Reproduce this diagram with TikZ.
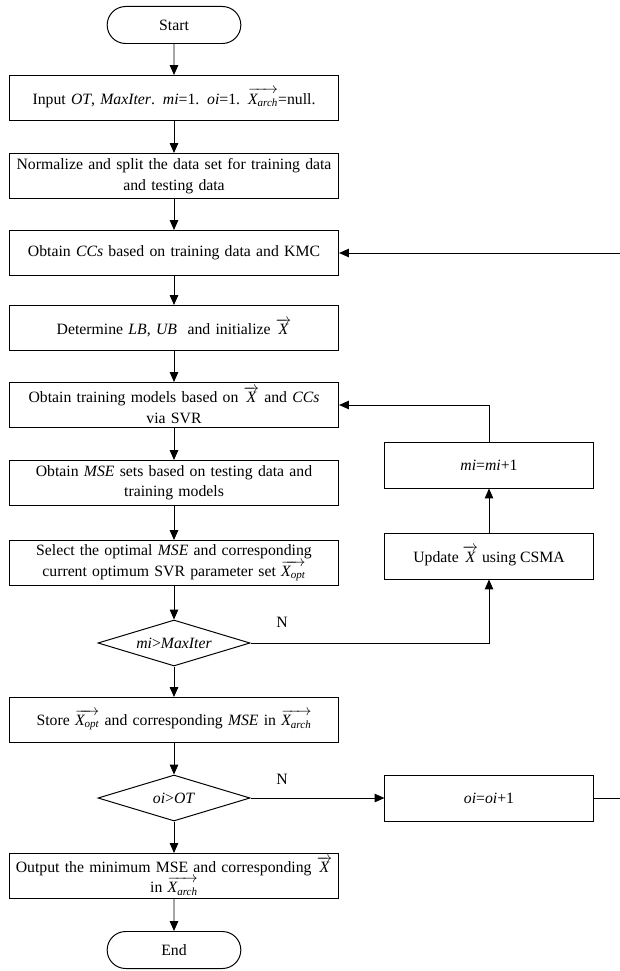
\documentclass[tikz,border=0pt]{standalone}
\usepackage{amsmath}
\usepackage{fontspec}
\setmainfont{Liberation Serif}
\usetikzlibrary{shapes.geometric,shapes.misc,arrows.meta}

\newcommand{\vx}[1]{$\overrightarrow{\textit{X}_{\textit{#1}}}$}
\newcommand{\vX}{$\overrightarrow{\textit{X}}$}

\begin{document}
\begin{tikzpicture}[x=0.025cm, y=-0.025cm, font=\fontsize{11.2}{14.5}\selectfont,
  line width=0.7pt, >={Triangle[length=7pt,width=6pt]},
  proc/.style={draw, minimum width=8.225cm, minimum height=1.125cm, text width=8.1cm, align=center, inner sep=0pt},
  side/.style={draw, minimum width=5.2cm, minimum height=1.15cm, align=center},
  test/.style={draw, diamond, aspect=3.3, minimum width=3.8cm, minimum height=1.15cm, inner sep=0pt},
  term/.style={draw, rounded rectangle, minimum width=3.575cm, minimum height=0.925cm}]

\useasboundingbox (0,0) rectangle (619,971);

\node[name=start, term] at (174,25) {Start};

\node[name=input, proc] at (174,98) {Input \textit{OT}, \textit{MaxIter}. \textit{mi}=1. \textit{oi}=1. \vx{arch}=null.};
\node[name=norm, proc] at (174,176) {Normalize and split the data set for training data\\ and testing data};
\node[name=cc, proc] at (174,253) {Obtain \textit{CCs} based on training data and KMC};
\node[name=bound, proc] at (174,328) {Determine \textit{LB}, \textit{UB}\ \ and initialize \vX};
\node[name=train, proc] at (174,405) {Obtain training models based on \vX\ and \textit{CCs}\\ via SVR};
\node[name=mse, proc] at (174,483) {Obtain \textit{MSE} sets based on testing data and\\ training models};
\node[name=best, proc] at (174,563) {Select the optimal \textit{MSE} and corresponding\\ current optimum SVR parameter set \vx{opt}};

\node[name=mitest, test] at (174,643) {\textit{mi}>\textit{MaxIter}};
\node[name=store, proc] at (174,720) {Store \vx{opt} and corresponding \textit{MSE} in \vx{arch}};
\node[name=oitest, test] at (174,798) {\textit{oi}>\textit{OT}};
\node[name=output, proc] at (174,876) {Output the minimum MSE and corresponding \vX\\ in \vx{arch}};
\node[name=stop, term] at (174,950) {End};

\node[name=miup, side] at (489,465) {\textit{mi}=\textit{mi}+1};
\node[name=update, side] at (489,556) {Update \vX\ using CSMA};
\node[name=oiup, side] at (489,798) {\textit{oi}=\textit{oi}+1};

\node[name=n1] at (282,622) {N};
\node[name=n2] at (282,779) {N};

\coordinate (c1) at (621,798);
\coordinate (c2) at (621,253);

\draw[->] (start) -- (input);
\draw[->] (input) -- (norm);
\draw[->] (norm) -- (cc);
\draw[->] (cc) -- (bound);
\draw[->] (bound) -- (train);
\draw[->] (train) -- (mse);
\draw[->] (mse) -- (best);
\draw[->] (best) -- (mitest);
\draw[->] (mitest) -- (store);
\draw[->] (store) -- (oitest);
\draw[->] (oitest) -- (output);
\draw[->] (output) -- (stop);

\draw[->] (mitest.east) -| (update.south);
\draw[->] (update) -- (miup);
\draw[->] (miup.north) |- (train.east);
\draw[->] (oitest.east) -- (oiup.west);
\draw[->] (oiup.east) -- (c1) -- (c2) -- (cc.east);

\end{tikzpicture}
\end{document}
